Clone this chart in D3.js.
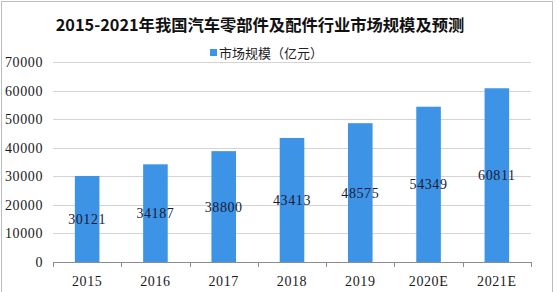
<!doctype html>
<html lang="zh">
<head>
    <meta charset="UTF-8">
    <title>2015-2021年我国汽车零部件及配件行业市场规模及预测</title>
    <style>
        body { margin: 0; background: #fff; }
    </style>
</head>
<body>
<script src="https://cdn.jsdelivr.net/npm/d3@7"></script>
<script>

    // data
    const years = ['2015', '2016', '2017', '2018', '2019', '2020E', '2021E']
    const sizes = [30121, 34187, 38800, 43413, 48575, 54349, 60811]
    const yTicks = [0, 10000, 20000, 30000, 40000, 50000, 60000, 70000]

    const W = 559, H = 292
    const plot = {left: 53, right: 531, top: 62, bottom: 262}

    const svg = d3.select('body')
        .append('svg')
        .attr('width', W)
        .attr('height', H)

    const numFont = '"Liberation Serif", serif'
    const cjkFont = '"Noto Sans CJK SC", sans-serif'

    // frame
    svg.append('rect')
        .attr('x', 1.5)
        .attr('y', 1.5)
        .attr('width', 551)
        .attr('height', H + 10)
        .attr('fill', 'none')
        .attr('stroke', '#bdbdbd')

    const x = d3.scaleBand()
        .domain(years)
        .range([plot.left, plot.right])
        .paddingInner(0.64)
        .paddingOuter(0.32)

    const y = d3.scaleLinear()
        .domain([0, 70000])
        .range([plot.bottom, plot.top])

    // gridlines
    svg.append('g')
        .selectAll('line')
        .data(yTicks.slice(1))
        .enter()
        .append('line')
        .attr('x1', plot.left)
        .attr('x2', plot.right)
        .attr('y1', d => Math.round(y(d)) + 0.5)
        .attr('y2', d => Math.round(y(d)) + 0.5)
        .attr('stroke', '#d4d4d4')

    // y tick labels
    svg.append('g')
        .selectAll('text')
        .data(yTicks)
        .enter()
        .append('text')
        .attr('x', 43)
        .attr('y', d => y(d) + 5)
        .attr('text-anchor', 'end')
        .attr('font-family', numFont)
        .attr('font-size', 14)
        .attr('letter-spacing', 0.6)
        .attr('fill', '#1a1a1a')
        .text(d => d)

    // bars
    svg.append('g')
        .selectAll('rect')
        .data(sizes)
        .enter()
        .append('rect')
        .attr('x', (d, i) => x(years[i]))
        .attr('width', x.bandwidth())
        .attr('y', d => y(d))
        .attr('height', d => y(0) - y(d))
        .attr('fill', '#3d93e6')

    // x axis
    const xAxis = svg.append('g')
    xAxis.append('line')
        .attr('x1', plot.left)
        .attr('x2', plot.right + 1)
        .attr('y1', plot.bottom + 0.5)
        .attr('y2', plot.bottom + 0.5)
        .attr('stroke', '#8c8c8c')

    const step = x.step()
    xAxis.selectAll('.tick')
        .data(d3.range(years.length + 1))
        .enter()
        .append('line')
        .attr('x1', i => Math.round(plot.left + i * step) + 0.5)
        .attr('x2', i => Math.round(plot.left + i * step) + 0.5)
        .attr('y1', plot.bottom)
        .attr('y2', plot.bottom + 5)
        .attr('stroke', '#8c8c8c')

    xAxis.selectAll('text')
        .data(years)
        .enter()
        .append('text')
        .attr('x', d => x(d) + x.bandwidth() / 2)
        .attr('y', 286)
        .attr('text-anchor', 'middle')
        .attr('font-family', numFont)
        .attr('font-size', 14)
        .attr('letter-spacing', 0.6)
        .attr('fill', '#1a1a1a')
        .text(d => d)

    // value labels in the middle of each bar
    svg.append('g')
        .selectAll('text')
        .data(sizes)
        .enter()
        .append('text')
        .attr('x', (d, i) => x(years[i]) + x.bandwidth() / 2)
        .attr('y', d => (y(d) + y(0)) / 2 + 5)
        .attr('text-anchor', 'middle')
        .attr('font-family', numFont)
        .attr('font-size', 14)
        .attr('letter-spacing', 0.6)
        .attr('fill', '#1a1a33')
        .text(d => d)

    // title
    svg.append('text')
        .attr('x', 260)
        .attr('y', 31)
        .attr('text-anchor', 'middle')
        .attr('font-family', cjkFont)
        .attr('font-weight', 'bold')
        .attr('font-size', 16.3)
        .attr('fill', '#111')
        .text('2015-2021年我国汽车零部件及配件行业市场规模及预测')

    // legend
    const legend = svg.append('g')
    legend.append('rect')
        .attr('x', 210)
        .attr('y', 49)
        .attr('width', 7)
        .attr('height', 7)
        .attr('fill', '#3d93e6')
    legend.append('text')
        .attr('x', 219)
        .attr('y', 58)
        .attr('font-family', cjkFont)
        .attr('font-size', 13)
        .attr('fill', '#222')
        .text('市场规模（亿元）')

</script>
</body>
</html>
